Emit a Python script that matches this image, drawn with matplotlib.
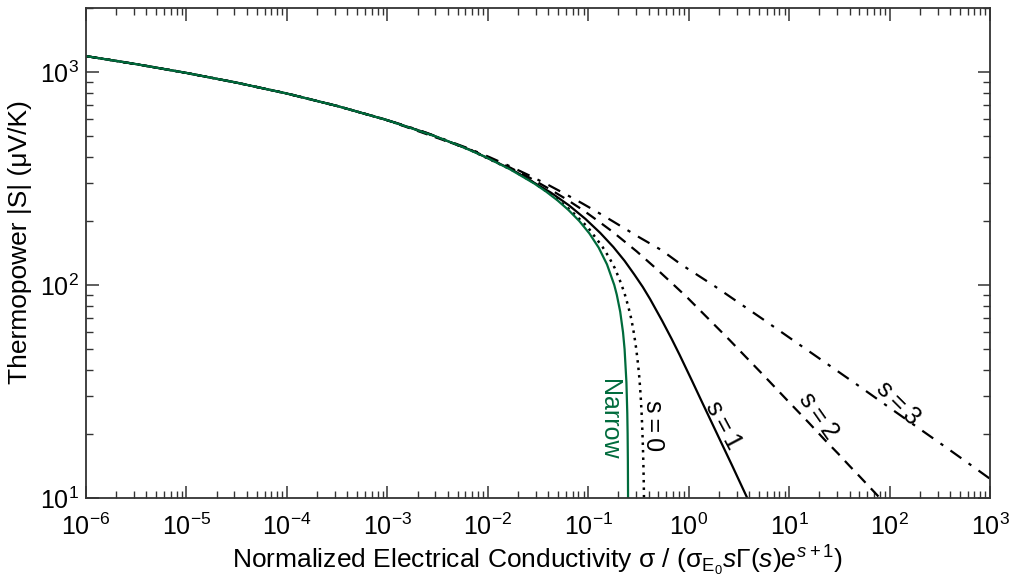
import matplotlib
matplotlib.use('Agg')
import matplotlib.pyplot as plt

plt.rcParams['font.family'] = ['Liberation Sans', 'DejaVu Sans']
plt.rcParams['mathtext.fontset'] = 'custom'
plt.rcParams['mathtext.rm'] = 'Liberation Sans'
plt.rcParams['mathtext.it'] = 'Liberation Sans:italic'
plt.rcParams['mathtext.bf'] = 'Liberation Sans:bold'

# curves: normalized conductivity vs |S| (uV/K)
narrow_x = [1e-6, 3.16e-6, 1e-5, 3.16e-5, 1e-4, 3.16e-4, 1e-3, 0.003, 0.00534,
            0.00946, 0.0166, 0.029, 0.038, 0.0494, 0.0637, 0.0814, 0.1025,
            0.127, 0.1538, 0.1817, 0.1925, 0.2081, 0.222, 0.2301, 0.240,
            0.2448, 0.2467, 0.2481, 0.2492]
narrow_S = [1190, 1091, 992, 893, 794, 694, 595, 500, 450,
            400, 350, 300, 275, 250, 225, 200, 175,
            150, 125, 100, 90, 75, 60, 50, 35,
            25, 20, 15, 10]

s0_x = [1e-6, 3.16e-6, 1e-5, 3.16e-5, 1e-4, 3.16e-4, 0.00091, 0.00246, 0.00662,
        0.01745, 0.02792, 0.04385, 0.0671, 0.0989, 0.1389, 0.1611, 0.184,
        0.2068, 0.229, 0.2499, 0.269, 0.286, 0.3008, 0.3134, 0.324, 0.3328,
        0.340, 0.3458, 0.3504, 0.3542, 0.3571, 0.359]
s0_S = [1190, 1091, 992, 893, 794, 694, 603, 517, 432,
        347, 305, 264, 224, 187, 151, 135, 120,
        105, 92, 79.6, 69, 58.8, 50, 42.4, 36, 30,
        25, 20.8, 17.3, 14.3, 11.8, 10.0]

s1_x = [1e-6, 3.16e-6, 1e-5, 3.16e-5, 1e-4, 3.16e-4, 1e-3, 0.00246, 0.00658,
        0.01717, 0.0424, 0.0642, 0.0938, 0.1318, 0.1777, 0.2303, 0.288,
        0.349, 0.4126, 0.5438, 0.6776, 0.8124, 1.0827, 1.353, 1.624, 2.03,
        2.707, 3.789, 3.83]
s1_S = [1190, 1091, 992, 893, 794, 694, 595, 518, 433,
        350, 272, 237, 204.5, 175.7, 151, 129.9, 112,
        98, 86, 68, 55.8, 47, 35.4, 28.3, 23.6, 18.9,
        14.2, 10.1, 10.0]

s2_x = [1e-6, 3.16e-6, 1e-5, 3.16e-5, 1e-4, 3.16e-4, 0.000908, 0.00652, 0.01685,
        0.02655, 0.04094, 0.06155, 0.0899, 0.1273, 0.1749, 0.2334, 0.3034,
        0.4792, 0.7037, 0.9777, 1.6747, 2.571, 3.666, 5.682, 10.04, 15.64,
        22.48, 30.57, 39.9, 50.48, 75.4, 79.5]
s2_S = [1190, 1091, 992, 893, 794, 694, 604, 435, 355.5,
        318, 283, 251.8, 224, 198.9, 178, 159.3, 144,
        119, 100.6, 87, 67.4, 55, 46.2, 37.3, 28.1, 22.6,
        18.8, 16.2, 14.15, 12.6, 10.3, 10.0]

s3_x = [1e-6, 3.16e-6, 1e-5, 3.16e-5, 1e-4, 3.16e-4, 1e-3, 0.001489, 0.002438,
        0.00646, 0.01039, 0.01651, 0.02583, 0.03964, 0.05947, 0.0871, 0.1245,
        0.1737, 0.3162, 0.5323, 0.84, 1.804, 3.354, 5.636, 10.75, 25.02,
        48.45, 83.3, 196.6, 383.1, 661.2, 1049]
s3_S = [1190, 1091, 992, 893, 794, 694, 595, 562, 520,
        438, 399, 362, 327.5, 296, 267.3, 242, 219.6,
        200, 168.5, 146.2, 125, 99, 81, 68.5, 55.4, 42,
        33.8, 28.2, 21.2, 17.0, 14.15, 12.1]

green = '#006b3c'

fig = plt.figure(figsize=(10.15, 5.79), dpi=100)
ax = fig.add_axes([0.0847, 0.140, 0.8907, 0.846])

ax.plot(s3_x, s3_S, color='black', lw=1.6, linestyle=(0, (6, 4, 1.5, 4)))
ax.plot(s2_x, s2_S, color='black', lw=1.6, linestyle=(0, (5, 3.5)))
ax.plot(s1_x, s1_S, color='black', lw=1.6, linestyle='-')
ax.plot(s0_x, s0_S, color='black', lw=1.8, linestyle=(0, (1, 2)))
ax.plot(narrow_x, narrow_S, color=green, lw=1.6, linestyle='-')

ax.set_xscale('log')
ax.set_yscale('log')
ax.set_xlim(1e-6, 1e3)
ax.set_ylim(10, 2000)
ax.set_xticks([10.0 ** k for k in range(-6, 4)])
ax.set_yticks([10, 100, 1000])

ax.tick_params(which='both', direction='in', top=True, right=True,
               labelsize=18, colors='#333333', labelcolor='black')
ax.tick_params(which='major', length=9, width=1.1)
ax.tick_params(axis='x', which='major', pad=11)
ax.tick_params(axis='y', which='major', pad=5)
ax.tick_params(which='minor', length=5, width=1.0)
for sp in ax.spines.values():
    sp.set_linewidth(1.3)
    sp.set_color('#333333')

ax.set_xlabel('Normalized Electrical Conductivity σ / (σ$_{\\mathrm{E_0}}$'
              r'$\mathit{s}\Gamma(\mathit{s})\mathit{e}^{\mathit{s}+1}$)',
              fontsize=19, labelpad=3)
ax.set_ylabel('Thermopower |S| (μV/K)', fontsize=19)
ax.yaxis.set_label_coords(-0.06, 0.522)

ax.text(0.16, 23.3, 'Narrow', color=green, fontsize=18, rotation=-90,
        ha='center', va='center')
ax.text(0.44, 21.8, 's\u2009=\u20090', fontsize=18, rotation=-90,
        ha='center', va='center')
ax.text(2.2, 22, 's\u2009=\u20091', fontsize=18, rotation=-62,
        ha='center', va='center')
ax.text(19.5, 24.3, 's\u2009=\u20092', fontsize=18, rotation=-55,
        ha='center', va='center')
ax.text(120, 28, 's\u2009=\u20093', fontsize=18, rotation=-45,
        ha='center', va='center')

fig.savefig('out.png', dpi=100)
